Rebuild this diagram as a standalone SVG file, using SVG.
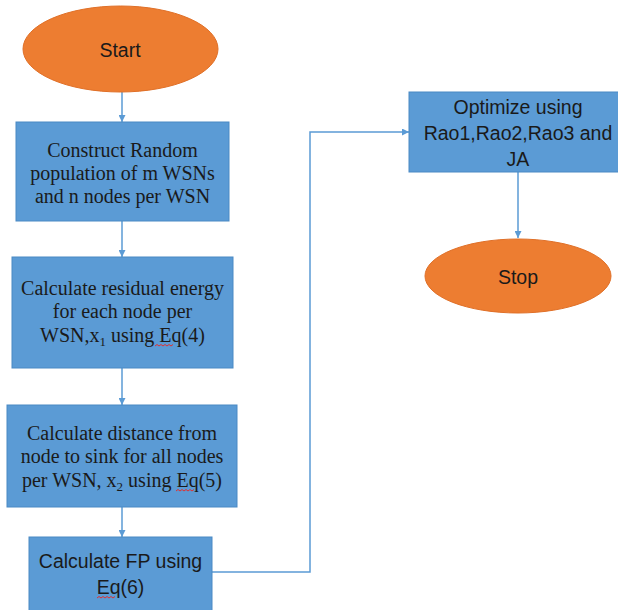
<svg xmlns="http://www.w3.org/2000/svg" width="618" height="610" viewBox="0 0 618 610">
<style>
.box{fill:#5B9BD5;stroke:#4A89C4;stroke-width:1}
.term{fill:#ED7D31;stroke:#E07028;stroke-width:1}
.serif{font-family:"Liberation Serif","Times New Roman",serif;font-size:20px;fill:#1a1a1a;text-anchor:middle}
.sans{font-family:"Liberation Sans",Arial,sans-serif;font-size:19.5px;fill:#1a1a1a;text-anchor:middle}
.conn{fill:none;stroke:#5B9BD5;stroke-width:1.5}
.sq{fill:none;stroke:#E03030;stroke-width:1}
</style>
<defs>
<marker id="ah" viewBox="0 0 10 10" refX="10" refY="5" markerWidth="7" markerHeight="7" markerUnits="userSpaceOnUse" orient="auto">
<path d="M0,0 L10,5 L0,10 z" fill="#5B9BD5"/>
</marker>
</defs>
<rect width="618" height="610" fill="#ffffff"/>
<g id="connectors">
<line class="conn" x1="122" y1="92" x2="122" y2="122" marker-end="url(#ah)"/>
<line class="conn" x1="122" y1="221" x2="122" y2="257" marker-end="url(#ah)"/>
<line class="conn" x1="122" y1="368" x2="122" y2="405" marker-end="url(#ah)"/>
<line class="conn" x1="122" y1="507" x2="122" y2="537" marker-end="url(#ah)"/>
<polyline class="conn" points="212,572 310,572 310,132 409,132" marker-end="url(#ah)"/>
<line class="conn" x1="518" y1="172" x2="518" y2="238" marker-end="url(#ah)"/>
</g>
<g id="start">
<ellipse class="term" cx="120.5" cy="49" rx="97.5" ry="43"/>
<text class="sans" x="120" y="57" font-size="21">Start</text>
</g>
<g id="construct">
<rect class="box" x="16" y="122" width="213" height="99"/>
<text class="serif" x="122.5" y="157">Construct Random</text>
<text class="serif" x="122.5" y="180">population of m WSNs</text>
<text class="serif" x="122.5" y="203">and n nodes per WSN</text>
</g>
<g id="residual">
<rect class="box" x="12" y="257" width="221" height="111"/>
<text class="serif" x="122.5" y="295">Calculate residual energy</text>
<text class="serif" x="122.5" y="318">for each node per</text>
<text class="serif" x="122.5" y="342">WSN,x<tspan font-size="13" dy="4">1</tspan><tspan dy="-4"> using Eq(4)</tspan></text>
<path class="sq" d="M155,346 l2,-1.5 l2,1.5 l2,-1.5 l2,1.5 l2,-1.5 l2,1.5 l2,-1.5 l2,1.5 l2,-1.5"/>
</g>
<g id="distance">
<rect class="box" x="7" y="405" width="230" height="102"/>
<text class="serif" x="122" y="440">Calculate distance from</text>
<text class="serif" x="122" y="463">node to sink for all nodes</text>
<text class="serif" x="122" y="487">per WSN, x<tspan font-size="13" dy="4">2</tspan><tspan dy="-4"> using Eq(5)</tspan></text>
<path class="sq" d="M176,491 l2,-1.5 l2,1.5 l2,-1.5 l2,1.5 l2,-1.5 l2,1.5 l2,-1.5 l2,1.5 l2,-1.5"/>
</g>
<g id="fp">
<rect class="box" x="29" y="537" width="183" height="80"/>
<text class="sans" x="120.5" y="568">Calculate FP using</text>
<text class="sans" x="120.5" y="594">Eq(6)</text>
<path class="sq" d="M97,598 l2,-1.5 l2,1.5 l2,-1.5 l2,1.5 l2,-1.5 l2,1.5 l2,-1.5 l2,1.5 l2,-1.5"/>
</g>
<g id="optimize">
<rect class="box" x="409" y="92" width="218" height="80"/>
<text class="sans" x="518" y="114">Optimize using</text>
<text class="sans" x="518" y="140">Rao1,Rao2,Rao3 and</text>
<text class="sans" x="518" y="166">JA</text>
</g>
<g id="stop">
<ellipse class="term" cx="518" cy="276" rx="93" ry="37"/>
<text class="sans" x="518" y="284" font-size="21">Stop</text>
</g>
</svg>
